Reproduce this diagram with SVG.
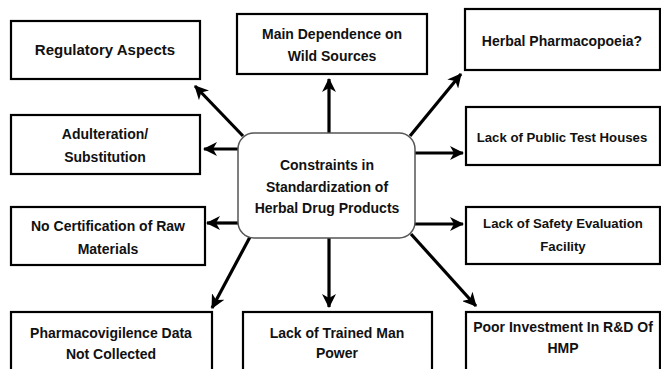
<svg xmlns="http://www.w3.org/2000/svg" width="661" height="369" viewBox="0 0 661 369">
<style>
.box{fill:#fff;stroke:#000;stroke-width:2.2}
.ctr{fill:#fff;stroke:#555;stroke-width:1.5}
text{font-family:"Liberation Sans",Arial,sans-serif;font-weight:bold;font-size:14px;fill:#111;text-anchor:middle}
.sm{font-size:13.2px}
.c line{stroke:#000;stroke-width:3.2}
</style>
<defs>
<marker id="ah" markerUnits="userSpaceOnUse" markerWidth="16" markerHeight="14" refX="13" refY="7" orient="auto">
<path d="M0,0 L14,7 L0,14 L4,7 Z" fill="#000"/>
</marker>
</defs>
<g id="connectors" class="c">
<line x1="329" y1="133" x2="329" y2="79" marker-end="url(#ah)"/>
<line x1="329" y1="238" x2="329" y2="307" marker-end="url(#ah)"/>
<line x1="239" y1="149" x2="204" y2="149" marker-end="url(#ah)"/>
<line x1="239" y1="223" x2="207" y2="223" marker-end="url(#ah)"/>
<line x1="414" y1="153" x2="463" y2="153" marker-end="url(#ah)"/>
<line x1="414" y1="224" x2="463" y2="224" marker-end="url(#ah)"/>
<line x1="243" y1="136" x2="195" y2="86" marker-end="url(#ah)"/>
<line x1="410" y1="136" x2="461" y2="74" marker-end="url(#ah)"/>
<line x1="250" y1="237" x2="212" y2="308" marker-end="url(#ah)"/>
<line x1="411" y1="234" x2="476" y2="306" marker-end="url(#ah)"/>
</g>
<g id="center">
<rect class="ctr" x="238" y="133" width="177" height="105" rx="16"/>
<text x="327" y="170">Constraints in</text>
<text x="327" y="192">Standardization of</text>
<text x="327" y="213">Herbal Drug Products</text>
</g>
<g id="regulatory">
<rect class="box" x="11" y="21" width="189" height="58"/>
<text x="105" y="55" style="font-size:15px">Regulatory Aspects</text>
</g>
<g id="wild">
<rect class="box" x="237" y="14" width="190" height="60"/>
<text x="332" y="39">Main Dependence on</text>
<text x="332" y="61">Wild Sources</text>
</g>
<g id="pharmacopoeia">
<rect class="box" x="465" y="9" width="195" height="61"/>
<text x="562" y="46">Herbal Pharmacopoeia?</text>
</g>
<g id="adulteration">
<rect class="box" x="11" y="115" width="189" height="59"/>
<text x="105" y="139">Adulteration/</text>
<text x="105" y="162">Substitution</text>
</g>
<g id="testhouses">
<rect class="box" x="466" y="107" width="194" height="58"/>
<text class="sm" x="562" y="142">Lack of Public Test Houses</text>
</g>
<g id="certification">
<rect class="box" x="11" y="207" width="194" height="58"/>
<text x="108" y="231">No Certification of Raw</text>
<text x="108" y="254">Materials</text>
</g>
<g id="safety">
<rect class="box" x="466" y="207" width="194" height="57"/>
<text class="sm" x="563" y="228">Lack of Safety Evaluation</text>
<text class="sm" x="563" y="251">Facility</text>
</g>
<g id="pharmacovigilence">
<rect class="box" x="11" y="312" width="201" height="62"/>
<text x="111" y="338">Pharmacovigilence Data</text>
<text x="111" y="359">Not Collected</text>
</g>
<g id="manpower">
<rect class="box" x="243" y="312" width="189" height="62"/>
<text x="337" y="338">Lack of Trained Man</text>
<text x="337" y="358">Power</text>
</g>
<g id="investment">
<rect class="box" x="466" y="312" width="194" height="62"/>
<text x="563" y="332">Poor Investment In R&amp;D Of</text>
<text x="563" y="353">HMP</text>
</g>
</svg>
